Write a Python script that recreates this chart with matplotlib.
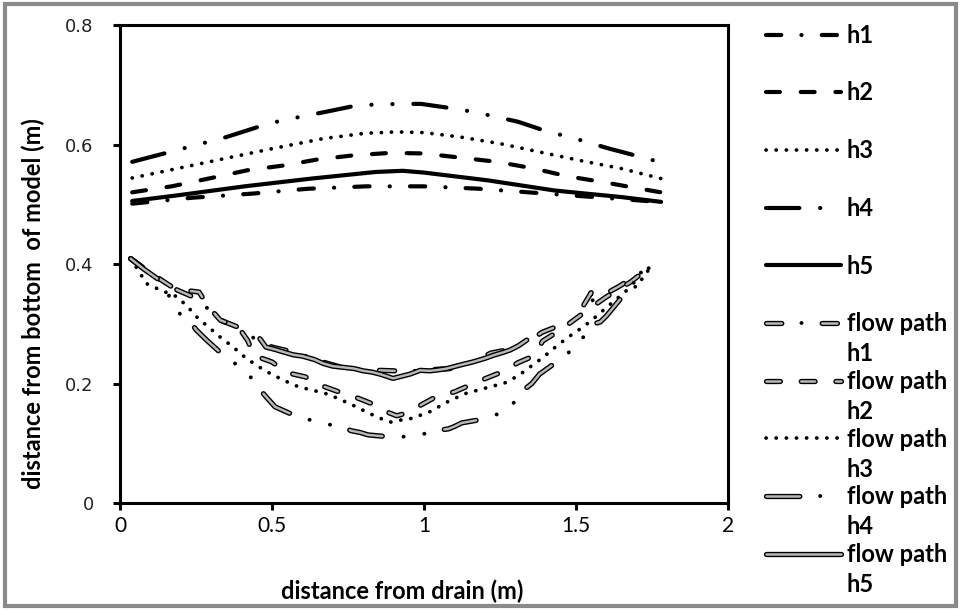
import numpy as np
import matplotlib.pyplot as plt
import matplotlib.patheffects as pe
from matplotlib.patches import Rectangle

# water table heads (upper curves)
h1_x = [0.04, 0.24, 0.44, 0.62, 0.81, 1.0, 1.18, 1.37, 1.56, 1.77]
h1_y = [0.501, 0.511, 0.518, 0.526, 0.530, 0.530, 0.526, 0.519, 0.512, 0.504]
h2_x = [0.04, 0.17, 0.31, 0.42, 0.54, 0.65, 0.77, 0.89, 1.0, 1.12, 1.24, 1.36, 1.47, 1.59, 1.71, 1.78]
h2_y = [0.520, 0.530, 0.545, 0.557, 0.565, 0.575, 0.582, 0.586, 0.585, 0.578, 0.571, 0.560, 0.547, 0.537, 0.526, 0.520]
h3_x = [0.04, 0.19, 0.34, 0.50, 0.67, 0.81, 0.91, 1.0, 1.12, 1.25, 1.38, 1.51, 1.65, 1.78]
h3_y = [0.544, 0.560, 0.576, 0.593, 0.610, 0.619, 0.621, 0.620, 0.6125, 0.6015, 0.5875, 0.5736, 0.5597, 0.543]
h4_x = [0.04, 0.16, 0.35, 0.47, 0.53, 0.67, 0.78, 0.85, 0.92, 0.99, 1.10, 1.17, 1.31, 1.41, 1.48, 1.61, 1.73, 1.78]
h4_y = [0.571, 0.587, 0.6125, 0.632, 0.640, 0.654, 0.6655, 0.667, 0.668, 0.668, 0.660, 0.654, 0.638, 0.621, 0.6125, 0.593, 0.577, 0.570]
h5_x = [0.04, 0.19, 0.41, 0.63, 0.84, 0.93, 1.0, 1.21, 1.43, 1.65, 1.78]
h5_y = [0.5055, 0.515, 0.530, 0.543, 0.554, 0.556, 0.553, 0.540, 0.523, 0.512, 0.504]

# traced flow paths (lower curves)
fp1_x = [0.035, 0.08, 0.13, 0.19, 0.24, 0.29, 0.33, 0.39, 0.44, 0.50, 0.55, 0.62, 0.68, 0.73, 0.80, 0.86, 0.915,
         0.96, 1.05, 1.09, 1.16, 1.22, 1.28, 1.34, 1.39, 1.44, 1.49, 1.525, 1.55, 1.53, 1.59, 1.64, 1.70, 1.75]
fp1_y = [0.409, 0.392, 0.373, 0.356, 0.345, 0.325, 0.306, 0.294, 0.276, 0.261, 0.255, 0.245, 0.234, 0.227, 0.222,
         0.222, 0.221, 0.221, 0.224, 0.225, 0.236, 0.251, 0.257, 0.270, 0.286, 0.296, 0.305, 0.331, 0.352, 0.333,
         0.348, 0.362, 0.381, 0.398]
fp2_x = [0.035, 0.10, 0.17, 0.23, 0.26, 0.29, 0.33, 0.39, 0.42, 0.44, 0.50, 0.55, 0.61, 0.66, 0.72, 0.77, 0.83,
         0.88, 0.91, 0.94, 0.99, 1.04, 1.10, 1.15, 1.21, 1.26, 1.31, 1.365, 1.39, 1.45, 1.53, 1.60, 1.68, 1.75]
fp2_y = [0.409, 0.385, 0.362, 0.355, 0.353, 0.329, 0.306, 0.294, 0.272, 0.247, 0.236, 0.218, 0.211, 0.197, 0.186,
         0.178, 0.166, 0.152, 0.146, 0.150, 0.164, 0.178, 0.186, 0.197, 0.210, 0.220, 0.235, 0.247, 0.271, 0.290,
         0.320, 0.345, 0.370, 0.398]
fp3_x = [0.035, 0.088, 0.13, 0.184, 0.22, 0.254, 0.29, 0.331, 0.37, 0.409, 0.45, 0.493, 0.54, 0.587, 0.64, 0.685,
         0.73, 0.773, 0.82, 0.857, 0.891, 0.925, 0.96, 1.02, 1.08, 1.135, 1.20, 1.266, 1.31, 1.35, 1.39, 1.43, 1.47,
         1.51, 1.55, 1.59, 1.63, 1.665, 1.70, 1.75]
fp3_y = [0.409, 0.367, 0.357, 0.346, 0.330, 0.3105, 0.295, 0.277, 0.262, 0.2447, 0.230, 0.217, 0.205, 0.1945,
         0.188, 0.182, 0.172, 0.162, 0.150, 0.1416, 0.1355, 0.139, 0.1416, 0.153, 0.170, 0.183, 0.192, 0.201, 0.213,
         0.228, 0.243, 0.26, 0.276, 0.29, 0.305, 0.3227, 0.340, 0.355, 0.363, 0.398]
fp4_x = [0.035, 0.077, 0.13, 0.20, 0.225, 0.25, 0.285, 0.334, 0.39, 0.44, 0.46, 0.48, 0.51, 0.576, 0.64, 0.70,
         0.73, 0.76, 0.79, 0.816, 0.88, 0.947, 1.013, 1.05, 1.08, 1.10, 1.124, 1.19, 1.256, 1.305, 1.33, 1.355, 1.38,
         1.436, 1.49, 1.535, 1.56, 1.58, 1.60, 1.66, 1.70, 1.75]
fp4_y = [0.409, 0.392, 0.373, 0.314, 0.308, 0.290, 0.2726, 0.25, 0.229, 0.2057, 0.190, 0.178, 0.161, 0.146, 0.137,
         0.130, 0.128, 0.121, 0.118, 0.114, 0.111, 0.111, 0.117, 0.122, 0.124, 0.128, 0.134, 0.14, 0.151, 0.172,
         0.190, 0.200, 0.2157, 0.236, 0.2575, 0.284, 0.300, 0.303, 0.313, 0.350, 0.375, 0.398]
fp5_x = [0.46, 0.48, 0.51, 0.536, 0.57, 0.60, 0.64, 0.668, 0.70, 0.735, 0.77, 0.80, 0.83, 0.855, 0.878, 0.898,
         0.925, 0.954, 0.987, 1.02, 1.05, 1.075, 1.12, 1.16, 1.20, 1.23, 1.26, 1.283, 1.31, 1.338]
fp5_y = [0.275, 0.261, 0.257, 0.253, 0.248, 0.2458, 0.240, 0.2336, 0.229, 0.227, 0.225, 0.2212, 0.219, 0.2157,
         0.212, 0.2085, 0.212, 0.2157, 0.222, 0.2212, 0.223, 0.225, 0.231, 0.236, 0.242, 0.2475, 0.252, 0.256, 0.263,
         0.2726]

head_names = ["h1", "h2", "h3", "h4", "h5"]
x_ticks = [0, 0.5, 1, 1.5, 2]
x_tick_labels = ["0", "0.5", "1", "1.5", "2"]
y_ticks = [0, 0.2, 0.4, 0.6, 0.8]
y_tick_labels = ["0", "0.2", "0.4", "0.6", "0.8"]

plt.rcParams['lines.scale_dashes'] = False
dash_styles = [
    (0, (11, 14.5, 0.1, 14.5)),            # dash dot
    (0, (10, 15)),                          # dashed
    (0, (0.1, 7.2)),                        # dotted
    (0, (24, 15, 0.1, 15, 0.1, 15)),        # long dash dot dot
    '-',
]
# for the outlined flow paths the dashes and the black dots are drawn apart
split_styles = {
    "h1": ((0, (11, 29.1)), (14.6, (0.1, 40.0))),
    "h4": ((0, (24, 45.2)), (30.3, (0.1, 15, 0.1, 54.1))),
}

fig = plt.figure(figsize=(9.61, 6.10), dpi=100)
ax = fig.add_axes([0.1249, 0.1754, 0.6326, 0.7836])

heads = [(h1_x, h1_y), (h2_x, h2_y), (h3_x, h3_y), (h4_x, h4_y), (h5_x, h5_y)]
paths = [(fp1_x, fp1_y), (fp2_x, fp2_y), (fp3_x, fp3_y), (fp4_x, fp4_y), (fp5_x, fp5_y)]

handles = []
labels = []
for (hx, hy), ls, name in zip(heads, dash_styles, head_names):
    lw = 2.7 if name == "h3" else 3.0
    ln, = ax.plot(hx, hy, color='black', lw=lw, linestyle=ls,
                  dash_capstyle='round', solid_capstyle='round')
    handles.append(ln)
    labels.append(name)

outline = [pe.withStroke(linewidth=3.8, foreground='black')]
for (px, py), ls, name in zip(paths, dash_styles, head_names):
    if name == "h3":
        ln, = ax.plot(px, py, color='black', lw=2.7, linestyle=ls, dash_capstyle='round')
        handles.append(ln)
    elif name in split_styles:
        dash_ls, dot_ls = split_styles[name]
        ln, = ax.plot(px, py, color='#b8b8b8', lw=1.8, linestyle=dash_ls,
                      dash_capstyle='round', path_effects=outline)
        dots, = ax.plot(px, py, color='black', lw=2.8, linestyle=dot_ls, dash_capstyle='round')
        handles.append((ln, dots))
    else:
        ln, = ax.plot(px, py, color='#b8b8b8', lw=1.8, linestyle=ls,
                      dash_capstyle='round', solid_capstyle='round', path_effects=outline)
        handles.append(ln)
    labels.append("flow path")

ax.set_xlim(0, 2)
ax.set_ylim(0, 0.8)
ax.set_xticks(x_ticks)
ax.set_xticklabels(x_tick_labels, fontfamily='Lato', fontsize=15)
ax.set_yticks(y_ticks)
ax.set_yticklabels(y_tick_labels, fontfamily='DejaVu Sans', fontsize=13, color='#222222')
ax.tick_params(axis='both', direction='out', length=5, width=2.2)
ax.tick_params(axis='y', pad=14)
ax.tick_params(axis='x', pad=4)
for sp in ax.spines.values():
    sp.set_linewidth(2.2)

label_font = {'family': 'Lato', 'weight': 'bold', 'size': 17}
ax.set_xlabel("distance from drain (m)", fontdict=label_font)
ax.set_ylabel("distance from bottom  of model (m)", fontdict=label_font)
ax.xaxis.set_label_coords(0.464, -0.161)
ax.yaxis.set_label_coords(-0.124, 0.418)

leg = fig.legend(handles, labels, loc='upper left', bbox_to_anchor=(0.797, 0.961), frameon=False,
                 borderpad=0, borderaxespad=0, handlelength=3.2, handletextpad=0.22, labelspacing=1.47,
                 prop=label_font)

# second line of the flow path labels
for t, name in zip(leg.get_texts()[5:], head_names):
    ann = plt.Annotation(name, xy=(0, 0.5), xycoords=t, xytext=(0, -21.5), textcoords='offset points',
                         va='center', ha='left', fontfamily='Lato', fontweight='bold', fontsize=17,
                         annotation_clip=False)
    ann.set_zorder(10)
    fig.add_artist(ann)

fig.patches.append(Rectangle((0.005, 0.006), 0.99, 0.988, transform=fig.transFigure, fill=False,
                             ec='#8a8a8a', lw=3))

fig.savefig('out.png', dpi=100)
